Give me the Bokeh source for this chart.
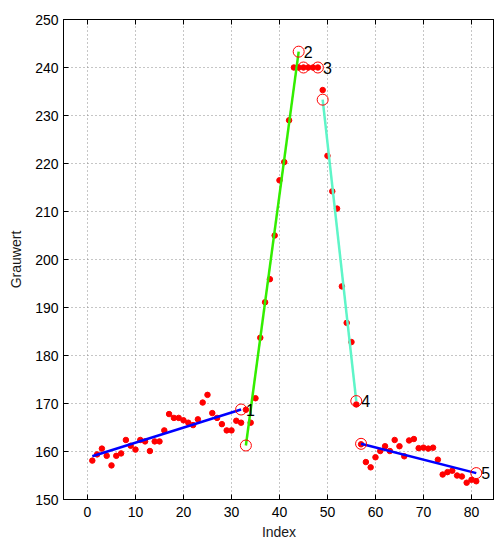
from bokeh.plotting import figure
from bokeh.models import Range1d, LinearAxis, FixedTicker, ColumnDataSource
from bokeh.core.properties import value
from bokeh.embed import file_html
from bokeh.resources import INLINE

# Messwerte (Grauwert je Index)
index = list(range(1, 82))
grauwert = [
    158.1, 159.4, 160.6, 159.1, 157.1, 159.1, 159.6, 162.4, 161.2, 160.4,
    162.4, 162.1, 160.1, 162.1, 162.1, 164.4, 167.8, 167.0, 167.0, 166.5,
    166.0, 165.5, 166.7, 170.2, 171.8, 168.0, 167.0, 165.7, 164.4, 164.4,
    166.4, 166.0, 168.7, 166.0, 171.1, 183.7, 191.1, 195.9, 205.0, 216.5,
    220.3, 229.0, 240.0, 240.0, 240.0, 240.0, 240.0, 240.0, 235.3, 221.6,
    214.2, 210.6, 194.4, 186.8, 182.8, 169.8, 161.5, 157.8, 156.7, 158.8,
    160.1, 161.1, 160.1, 162.4, 161.1, 159.0, 162.3, 162.6, 160.7, 160.8,
    160.6, 160.8, 158.3, 155.2, 155.7, 156.0, 155.0, 154.8, 153.5, 154.1,
    153.8,
]

# Lineare Teilstuecke: Start- und Endpunkt je Segment
seg_x0 = [1, 33, 45, 49, 57]
seg_y0 = [159.0, 161.25, 240.0, 233.3, 161.6]
seg_x1 = [32, 44, 48, 56, 81]
seg_y1 = [168.75, 243.3, 240.0, 170.5, 155.5]
seg_colors = ["#0000FF", "#33EE00", "#0000FF", "#5EF5C8", "#0000FF"]
seg_labels = ["1", "2", "3", "4", "5"]

x_ticks = [0, 10, 20, 30, 40, 50, 60, 70, 80]
y_ticks = [150, 160, 170, 180, 190, 200, 210, 220, 230, 240, 250]

FONT = "Liberation Sans"

p = figure(
    frame_width=431, frame_height=480,
    x_range=Range1d(-5, 84.8), y_range=Range1d(150, 250),
    output_backend="svg", toolbar_location=None,
    min_border_left=63, min_border_right=0,
    min_border_top=19, min_border_bottom=42,
)
p.background_fill_color = "white"
p.border_fill_color = "white"
p.outline_line_color = "black"
p.outline_line_width = 1

for ax in (p.xaxis[0], p.yaxis[0]):
    ax.major_tick_in = 5
    ax.major_tick_out = 0
    ax.minor_tick_in = 0
    ax.minor_tick_out = 0
    ax.axis_line_color = "black"
    ax.major_label_text_font = FONT
    ax.major_label_text_font_size = "14px"
    ax.major_label_text_color = "black"
    ax.axis_label_text_font = FONT
    ax.axis_label_text_font_size = "14px"
    ax.axis_label_text_font_style = "normal"
    ax.axis_label_text_color = "#1a1a1a"

p.xaxis[0].ticker = FixedTicker(ticks=x_ticks)
p.yaxis[0].ticker = FixedTicker(ticks=y_ticks)
p.xaxis[0].axis_label = "Index"
p.yaxis[0].axis_label = "Grauwert"
p.xaxis[0].major_label_standoff = 7
p.xaxis[0].axis_label_standoff = 4
p.yaxis[0].major_label_standoff = 5
p.yaxis[0].axis_label_standoff = 8

# Obere Achse nur mit Teilstrichen, ohne Beschriftung
top = LinearAxis(ticker=FixedTicker(ticks=x_ticks))
top.major_tick_in = 5
top.major_tick_out = 0
top.minor_tick_in = 0
top.minor_tick_out = 0
top.major_label_text_font_size = "1px"
top.major_label_text_alpha = 0
top.major_label_text_color = None
top.major_label_standoff = 0
p.add_layout(top, "above")

for g in (p.xgrid[0], p.ygrid[0]):
    g.grid_line_color = "#8c8c8c"
    g.grid_line_dash = "1 3"
    g.grid_line_width = 1
p.xgrid[0].ticker = FixedTicker(ticks=x_ticks)
p.ygrid[0].ticker = FixedTicker(ticks=y_ticks)

pts = ColumnDataSource(dict(x=index, y=grauwert))

# horizontales Segment liegt unter den Punkten
p.segment(x0=[seg_x0[2]], y0=[seg_y0[2]], x1=[seg_x1[2]], y1=[seg_y1[2]],
          line_color=seg_colors[2], line_width=2.5)

p.scatter("x", "y", source=pts, size=5.5, color="#FF0000", line_color="#FF0000")

others = [0, 1, 3, 4]
p.segment(x0=[seg_x0[k] for k in others], y0=[seg_y0[k] for k in others],
          x1=[seg_x1[k] for k in others], y1=[seg_y1[k] for k in others],
          line_color=[seg_colors[k] for k in others], line_width=2.5)

# Endpunkte markieren
cx = seg_x1[:] + seg_x0[1:]
cy = seg_y1[:] + seg_y0[1:]
p.scatter(cx, cy, size=11, fill_color=None, line_color="#FF0000", line_width=1)

p.text(x=seg_x1, y=seg_y1, text=seg_labels, x_offset=5, y_offset=0,
       text_font=value(FONT), text_font_size="16px", text_color="black",
       text_baseline="alphabetic", text_align="left")

open("out.html", "w").write(file_html(p, INLINE))
